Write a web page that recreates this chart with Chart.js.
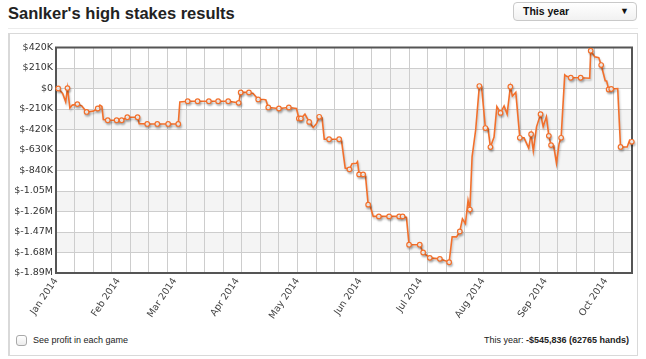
<!DOCTYPE html>
<html>
<head>
<meta charset="utf-8">
<script src="https://cdn.jsdelivr.net/npm/chart.js@4/dist/chart.umd.min.js"></script>
<style>
  body { margin: 0; width: 646px; height: 359px; position: relative; overflow: hidden; background: #fff;
         font-family: "Liberation Sans", Arial, sans-serif; color: #222; }
  #title { position: absolute; left: 8px; top: 4px; font-size: 16.5px; font-weight: bold; color: #222; }
  #period { position: absolute; left: 513px; top: 2px; width: 124px; height: 19px; box-sizing: border-box;
            border: 1px solid #c9c9c9; border-radius: 4px; background: linear-gradient(#fff, #f1f1f1);
            font-size: 10.5px; font-weight: bold; line-height: 17px; padding-left: 9px; color: #111; }
  #period span { position: absolute; right: 7px; top: 0; font-size: 9px; }
  #rule { position: absolute; left: 8px; top: 28px; width: 630px; height: 1px; background: #ececec; }
  #panel { position: absolute; left: 8px; top: 33px; width: 630px; height: 323px; box-sizing: border-box;
           border: 1px solid #d9d9d9; border-left-width: 2px; background: #fff; }
  #chart { position: absolute; left: 0; top: 0; }
  #check { position: absolute; left: 16px; top: 335px; width: 11px; height: 11px; box-sizing: border-box;
           border: 1px solid #a9a9a9; border-radius: 3px; background: linear-gradient(#fff, #ececec); }
  #seeProfit { position: absolute; left: 33px; top: 335px; font-size: 9px; color: #222; }
  #summary { position: absolute; right: 17px; top: 335px; font-size: 9px; color: #222; }
</style>
</head>
<body>
<div id="title">Sanlker's high stakes results</div>
<div id="period">This year<span>▼</span></div>
<div id="rule"></div>
<div id="panel"></div>
<canvas id="chart" width="646" height="330"></canvas>
<div id="check"></div>
<div id="seeProfit">See profit in each game</div>
<div id="summary">This year: <b>-$545,836 (62765 hands)</b></div>
<script>
// days since Jan 1 2014
const days = [
  1.1, 3.3, 4.8, 5.7, 6.9, 8.1, 10.6, 12.8, 15.2, 18.5,
  20.7, 21.8, 22.8, 23.5, 25.7, 30.1, 32.6, 35.4, 40.5, 41.3,
  45.3, 50.3, 55.7, 60.7, 61.5, 65.4, 70.3, 75.9, 80.5, 85.5,
  90.7, 91.7, 95.8, 97.9, 100.4, 103.2, 104.2, 105.4, 110.7, 115.6,
  119.4, 120.6, 121.6, 123.6, 125.7, 127.7, 129.4, 130.7, 132.1, 133.2,
  135.6, 140.6, 141.8, 143.6, 145.7, 147.0, 149.2, 149.7, 150.5, 152.5,
  153.7, 155.0, 155.8, 157.5, 160.3, 165.4, 170.4, 172.1, 174.0, 175.3,
  180.6, 182.3, 185.6, 190.6, 195.2, 196.7, 198.9, 200.5, 201.8, 203.3,
  204.6, 205.5, 206.6, 208.4, 210.2, 211.3, 213.2, 214.5, 215.7, 217.5,
  218.9, 220.7, 222.5, 224.0, 225.6, 226.6, 228.3, 230.3, 232.4, 234.7,
  235.9, 237.0, 238.6, 240.6, 241.9, 243.5, 244.7, 245.8, 247.1, 248.5,
  249.8, 250.8, 252.6, 253.5, 255.6, 260.5, 265.0, 265.5, 267.5, 269.5,
  270.7, 272.7, 273.4, 274.4, 275.7, 278.9, 280.3, 283.6, 284.8, 285.9
];
// cumulative profit, thousands of dollars
const profitK = [
  0, -50, -137, 4, -200, -170, -160, -178, -240, -232,
  -205, -170, -185, -318, -325, -325, -325, -294, -294, -360,
  -363, -363, -363, -363, -137, -130, -130, -130, -130, -130,
  -147, -40, -40, -50, -112, -112, -118, -194, -205, -194,
  -205, -307, -307, -263, -342, -400, -360, -290, -300, -520,
  -520, -520, -540, -815, -828, -770, -765, -750, -880, -880,
  -900, -1190, -1185, -1310, -1310, -1310, -1310, -1310, -1320, -1600,
  -1600, -1680, -1735, -1745, -1780, -1520, -1520, -1465, -1335, -1385,
  -1146, -1240, -700, -420, 25, 20, -405, -410, -600, -497,
  -185, -250, -178, -263, 18, -78, -40, -505, -505, -610,
  -468, -640, -393, -263, -390, -290, -485, -580, -585, -765,
  -565, -505, 140, 125, 110, 110, 105, 387, 325, 315,
  240, 80, 78, -10, -5, 0, -599, -599, -530, -545.836
];
// 1 = end of a session (shown with a marker)
const sessionEnd = [
  1, 0, 0, 1, 0, 0, 1, 0, 1, 0,
  1, 0, 0, 0, 1, 1, 1, 1, 1, 0,
  1, 1, 1, 1, 0, 1, 1, 1, 1, 1,
  1, 1, 1, 0, 1, 0, 0, 1, 1, 1,
  0, 1, 1, 0, 1, 0, 0, 1, 0, 0,
  1, 1, 0, 0, 1, 0, 0, 0, 1, 1,
  0, 1, 0, 0, 1, 1, 1, 1, 0, 1,
  1, 1, 1, 1, 1, 0, 0, 1, 0, 0,
  0, 1, 0, 0, 1, 0, 1, 0, 1, 0,
  0, 1, 0, 0, 1, 0, 0, 1, 0, 0,
  1, 0, 0, 1, 0, 0, 1, 1, 0, 0,
  0, 1, 0, 0, 1, 1, 0, 1, 0, 0,
  1, 0, 0, 1, 1, 0, 1, 0, 0, 1
];

const monthLabels = ['Jan 2014', 'Feb 2014', 'Mar 2014', 'Apr 2014', 'May 2014',
                     'Jun 2014', 'Jul 2014', 'Aug 2014', 'Sep 2014', 'Oct 2014'];
const monthDays = [0, 31, 59, 90, 120, 151, 181, 212, 243, 273];

const yTicks = [-1890000, -1680000, -1470000, -1260000, -1050000, -840000, -630000,
                -420000, -210000, 0, 210000, 420000];
const yTickLabels = ['$-1.89M', '$-1.68M', '$-1.47M', '$-1.26M', '$-1.05M', '$-840K', '$-630K',
                     '$-420K', '$-210K', '$0', '$210K', '$420K'];

const xMax = 286;
const gridColumns = 31;
const orange = '#f2702c';

// alternating grey rows behind the grid
const bands = {
  id: 'bands',
  beforeDraw(chart) {
    const { ctx, chartArea: a, scales: { y } } = chart;
    ctx.save();
    ctx.fillStyle = '#f4f4f4';
    for (let i = 0; i < yTicks.length - 1; i++) {
      if ((yTicks.length - 2 - i) % 2 === 1) {
        const top = y.getPixelForValue(yTicks[i + 1]);
        const bottom = y.getPixelForValue(yTicks[i]);
        ctx.fillRect(a.left, top, a.right - a.left, bottom - top);
      }
    }
    ctx.restore();
  }
};

// dark frame round the plot
const frame = {
  id: 'frame',
  beforeDatasetsDraw(chart) {
    const { ctx, chartArea: a } = chart;
    ctx.save();
    ctx.strokeStyle = '#555';
    ctx.lineWidth = 2;
    ctx.strokeRect(a.left, a.top, a.right - a.left, a.bottom - a.top);
    ctx.restore();
  }
};

// soft shadow under the line
const lineShadow = {
  id: 'lineShadow',
  beforeDatasetDraw(chart) {
    const ctx = chart.ctx;
    ctx.save();
    ctx.shadowColor = 'rgba(0,0,0,0.22)';
    ctx.shadowBlur = 2;
    ctx.shadowOffsetX = 1;
    ctx.shadowOffsetY = 2;
  },
  afterDatasetDraw(chart) {
    chart.ctx.restore();
  }
};

const tickFont = { family: 'DejaVu Sans', size: 9.5 };

new Chart(document.getElementById('chart'), {
  type: 'line',
  data: {
    datasets: [{
      data: days.map((d, i) => ({ x: d, y: profitK[i] * 1000 })),
      borderColor: orange,
      borderWidth: 1.6,
      tension: 0,
      pointRadius: c => sessionEnd[c.dataIndex] ? 2.3 : 0,
      pointHoverRadius: 0,
      pointBackgroundColor: '#fff',
      pointBorderColor: orange,
      pointBorderWidth: 1.2,
      clip: 6
    }]
  },
  options: {
    responsive: false,
    animation: false,
    layout: { padding: { top: 47.5, right: 14, left: 0, bottom: 0 } },
    plugins: { legend: { display: false }, tooltip: { enabled: false } },
    scales: {
      x: {
        type: 'linear', min: 0, max: xMax,
        afterBuildTicks: s => { s.ticks = Array.from({ length: gridColumns + 1 }, (_, i) => ({ value: i * xMax / gridColumns })); },
        ticks: { display: false },
        grid: { color: '#cdcdcd', drawTicks: false },
        border: { display: false },
        afterFit: s => { s.height = 0; }
      },
      months: {
        type: 'linear', position: 'bottom', min: 0, max: xMax,
        afterBuildTicks: s => { s.ticks = monthDays.map(v => ({ value: v })); },
        ticks: {
          autoSkip: false, minRotation: 56, maxRotation: 56, padding: 3,
          color: '#444', font: tickFont,
          callback: v => monthLabels[monthDays.indexOf(v)]
        },
        grid: { display: false, drawTicks: false },
        border: { display: false },
        afterFit: s => { s.height = 57; }
      },
      y: {
        min: yTicks[0], max: yTicks[yTicks.length - 1],
        afterBuildTicks: s => { s.ticks = yTicks.map(v => ({ value: v })); },
        ticks: {
          autoSkip: false, padding: 3, color: '#333', font: tickFont,
          callback: v => yTickLabels[yTicks.indexOf(v)]
        },
        grid: { color: '#cdcdcd', drawTicks: false },
        border: { display: false },
        afterFit: s => { s.width = 56; }
      }
    }
  },
  plugins: [bands, frame, lineShadow]
});
</script>
</body>
</html>
